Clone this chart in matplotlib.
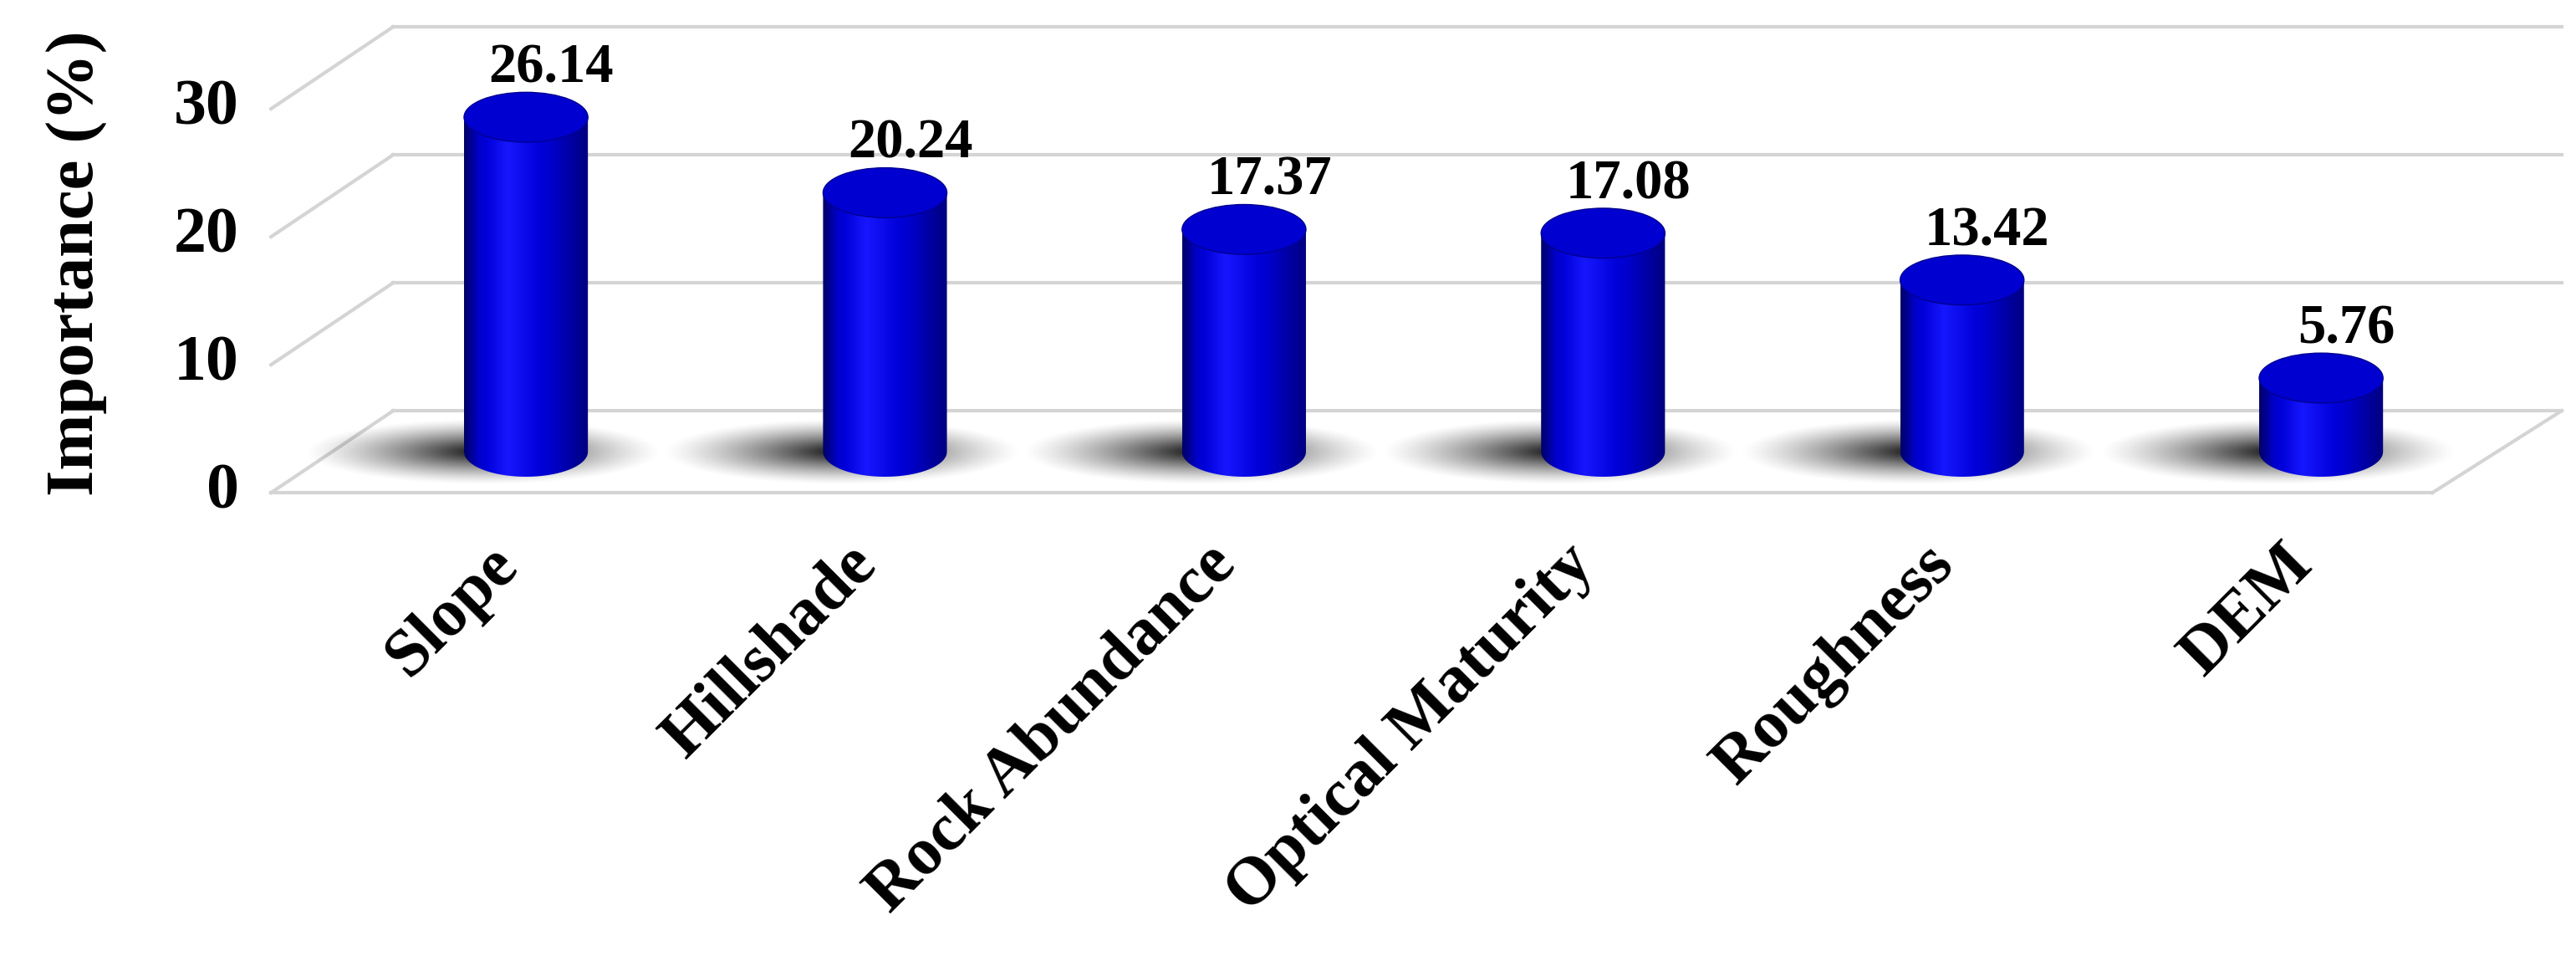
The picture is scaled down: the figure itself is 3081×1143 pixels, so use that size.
import matplotlib
matplotlib.use("Agg")
import matplotlib.pyplot as plt
import numpy as np
from matplotlib.patches import Ellipse, Polygon

categories = ["Slope", "Hillshade", "Rock Abundance", "Optical Maturity", "Roughness", "DEM"]
values = [26.14, 20.24, 17.37, 17.08, 13.42, 5.76]
yticks = [0, 10, 20, 30]

plt.rcParams["font.family"] = ["Liberation Serif", "DejaVu Serif"]

fig = plt.figure(figsize=(30.81, 11.43), dpi=100)
ax = fig.add_axes([0, 0, 1, 1])
ax.axis("off")

DEPTH = 3.2          # half depth offset (value units)
BW = 0.345           # bar width (category units)
EH = 3.9             # ellipse height (value units)
grid_c = "#d4d4d4"

# perspective grid
for v in yticks:
    ax.plot([-0.37, 5.67], [v + DEPTH, v + DEPTH], color=grid_c, lw=3, zorder=1)
    ax.plot([-0.71, -0.37], [v - DEPTH, v + DEPTH], color=grid_c, lw=3, zorder=1)
ax.plot([-0.71, 5.31], [-DEPTH, -DEPTH], color=grid_c, lw=3, zorder=1)
ax.plot([5.31, 5.67], [-DEPTH, DEPTH], color=grid_c, lw=3, zorder=1)

for v in yticks:
    ax.text(-0.80, v - DEPTH, str(v), ha="right", va="center",
            fontsize=56, fontweight="bold")
ax.text(-1.25, 14.7, "Importance (%)", rotation=90, ha="center", va="center",
        fontsize=58, fontweight="bold")

# gradients
gx = np.linspace(0, 1, 200)
prof = np.interp(gx, [0, 0.12, 0.35, 0.7, 1], [0.4, 0.8, 1.0, 0.8, 0.5])
body = np.zeros((2, 200, 3))
body[..., 0] = (prof - 0.85).clip(0) * 0.6
body[..., 1] = (prof - 0.85).clip(0) * 0.6
body[..., 2] = prof

sx, sy = np.meshgrid(np.linspace(-1, 1, 200), np.linspace(-1, 1, 60))
r = np.sqrt(sx ** 2 + sy ** 2)
shadow = np.zeros((60, 200, 4))
shadow[..., 3] = np.clip(1 - r, 0, 1) ** 1.3 * 0.95

t = np.linspace(0, np.pi, 60)
for i, (cat, v) in enumerate(zip(categories, values)):
    # shadow on floor
    ax.imshow(shadow, extent=[i - 0.62, i + 0.38, -2.6, 2.6], aspect="auto",
              zorder=2, interpolation="bilinear")
    # body
    bx = np.concatenate([[i - BW / 2], i - BW / 2 * np.cos(t), [i + BW / 2]])
    by = np.concatenate([[v], -EH / 2 * np.sin(t), [v]])
    clip = Polygon(np.column_stack([bx, by]), closed=True, fc="none", ec="none")
    ax.add_patch(clip)
    im = ax.imshow(body, extent=[i - BW / 2, i + BW / 2, -EH / 2, v], aspect="auto",
                   zorder=3, interpolation="bilinear")
    im.set_clip_path(clip)
    ax.add_patch(Ellipse((i, v), BW, EH, fc="#0000d0", ec="#000090", lw=1, zorder=4))
    ax.text(i + 0.07, v + 3.8, f"{v:.2f}", ha="center", va="center",
            fontsize=48, fontweight="bold", zorder=5)
    ax.text(i - 0.11, -6.4, cat, rotation=45, ha="right", va="top",
            rotation_mode="anchor", fontsize=58, fontweight="bold")

ax.set_xlim(-1.465, 5.71)
ax.set_ylim(-39.4, 35.3)
fig.savefig("out.png", dpi=100)
